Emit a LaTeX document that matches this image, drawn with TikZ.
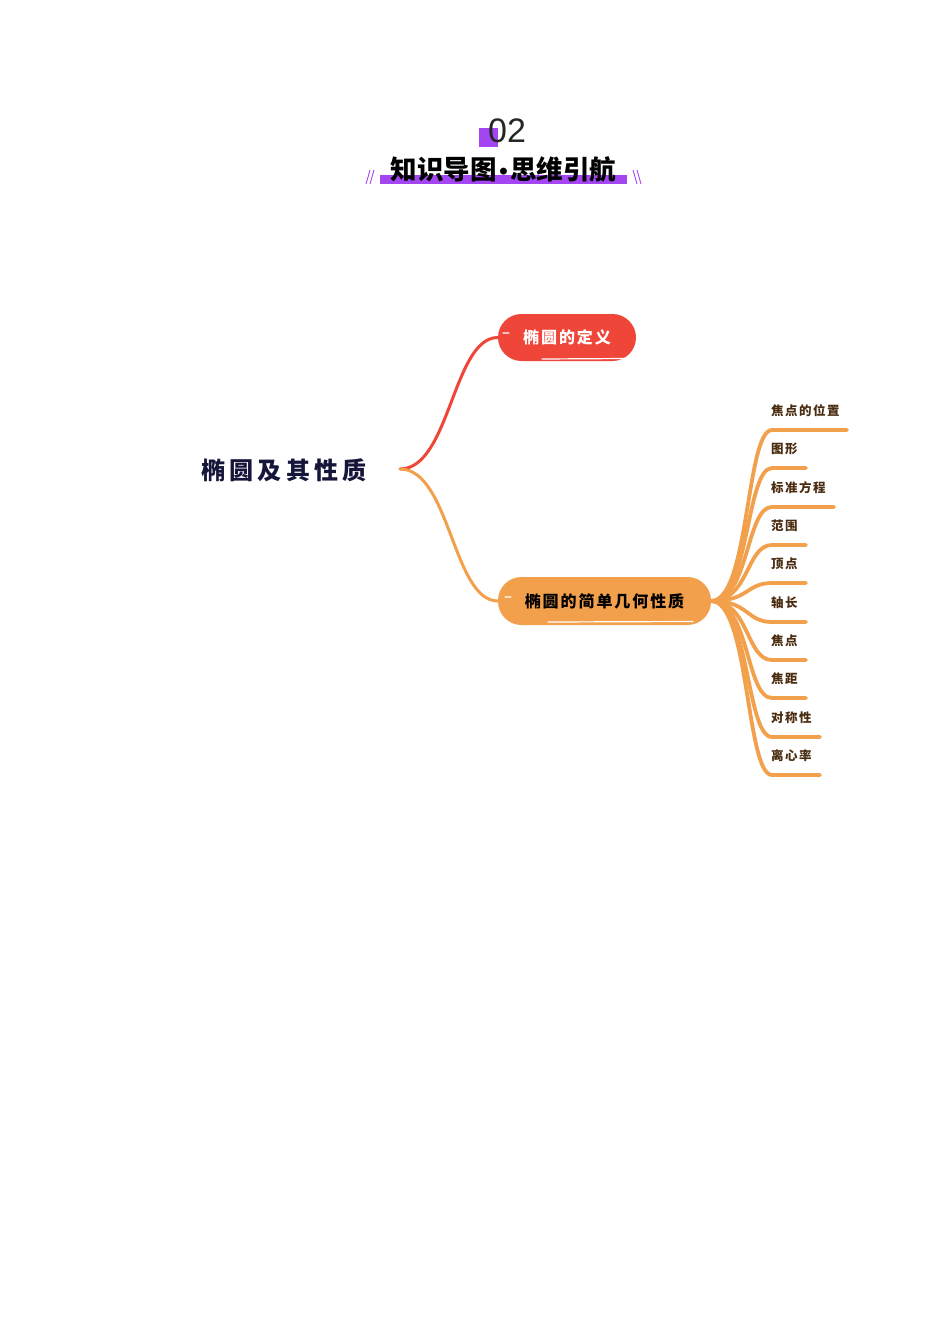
\documentclass[tikz,border=0pt]{standalone}
\usepackage{fontspec}
\newfontfamily\cjk{Noto Sans CJK SC}
\newfontfamily\cjkls{Noto Sans CJK SC}[LetterSpace=12]
\newfontfamily\numfont{Liberation Sans}
\definecolor{ttlpurple}{HTML}{A445F2}
\definecolor{mmred}{HTML}{F0463A}
\definecolor{mmorange}{HTML}{F2A04C}
\definecolor{rootink}{HTML}{15163A}
\definecolor{leafink}{HTML}{4A2C10}
\tikzset{
  pill/.style={rounded corners=23.5pt, minimum height=47pt, inner sep=0pt, font=\cjkls\bfseries\fontsize{16}{16}\selectfont},
  leaf/.style={anchor=west, inner sep=0pt, text=leafink, font=\cjkls\bfseries\fontsize{12.5}{12.5}\selectfont},
  branch/.style={line width=3.8pt, line cap=round, mmorange},
  mainlink/.style={line width=3pt, line cap=round},
  sketch/.style={white, line width=1.2pt, line cap=round}
}
\begin{document}
\begin{tikzpicture}[x=1pt,y=-1pt]
\useasboundingbox (0,0) rectangle (950,1344);
\fill[white] (0,0) rectangle (950,1344);

% title
\fill[ttlpurple] (479,128) rectangle (498,147);
\node[font=\numfont\fontsize{34}{34}\selectfont, text=black!85, inner sep=0pt] (num) at (507,130.5) {02};
\fill[ttlpurple] (380,175) rectangle (627,184);
\node[font=\cjk\bfseries\fontsize{26.5}{26.5}\selectfont, inner sep=0pt] (ttl) at (503.5,169.5) {知识导图\hspace{2.5pt}{\numfont\fontsize{24}{24}\selectfont •}\hspace{2.5pt}思维引航};
\draw[ttlpurple, line width=0.9pt] (366,184) -- (370,170) (370,184) -- (374,170);
\draw[ttlpurple, line width=0.9pt] (633,170) -- (637,184) (637,170) -- (641,184);

% root
\node[font=\cjk\bfseries\fontsize{24}{24}\selectfont, text=rootink, inner sep=0pt] (root) at (284,470) {\addfontfeature{LetterSpace=17}椭圆及其性质};
\coordinate (rc) at (400,469);

% main children
\node[pill, fill=mmred, text=white, minimum width=138pt] (def) at (567,337.5) {椭圆的定义};
\node[pill, fill=mmorange, text=black, minimum width=213pt, minimum height=48pt] (geo) at (604.5,601) {椭圆的简单几何性质};
\draw[sketch] (503,333) -- (509,333) (542,359) -- (626,358.5);
\draw[sketch] (505,597) -- (511,597) (548,622) -- (693,621.5);

\draw[mainlink, mmred] (rc) .. controls +(50,0) and +(-45,0) .. (def.west);
\draw[mainlink, mmorange] (rc) .. controls +(50,0) and +(-45,0) .. (geo.west);

% leaves
\foreach \i/\y/\xe/\t in {1/430/847/焦点的位置, 2/468/806/图形, 3/507/834/标准方程, 4/545/806/范围, 5/583/806/顶点, 6/622/806/轴长, 7/660/806/焦点, 8/698/806/焦距, 9/737/820/对称性, 10/775/820/离心率}{
  \node[leaf] (l\i) at (771,\y-19) {\t};
  \coordinate (k\i) at (772,\y);
  \coordinate (e\i) at (\xe,\y);
  \draw[branch] (geo.east) .. controls +(38,0) and +(-26,0) .. (k\i) -- (e\i);
}
\end{tikzpicture}
\end{document}
